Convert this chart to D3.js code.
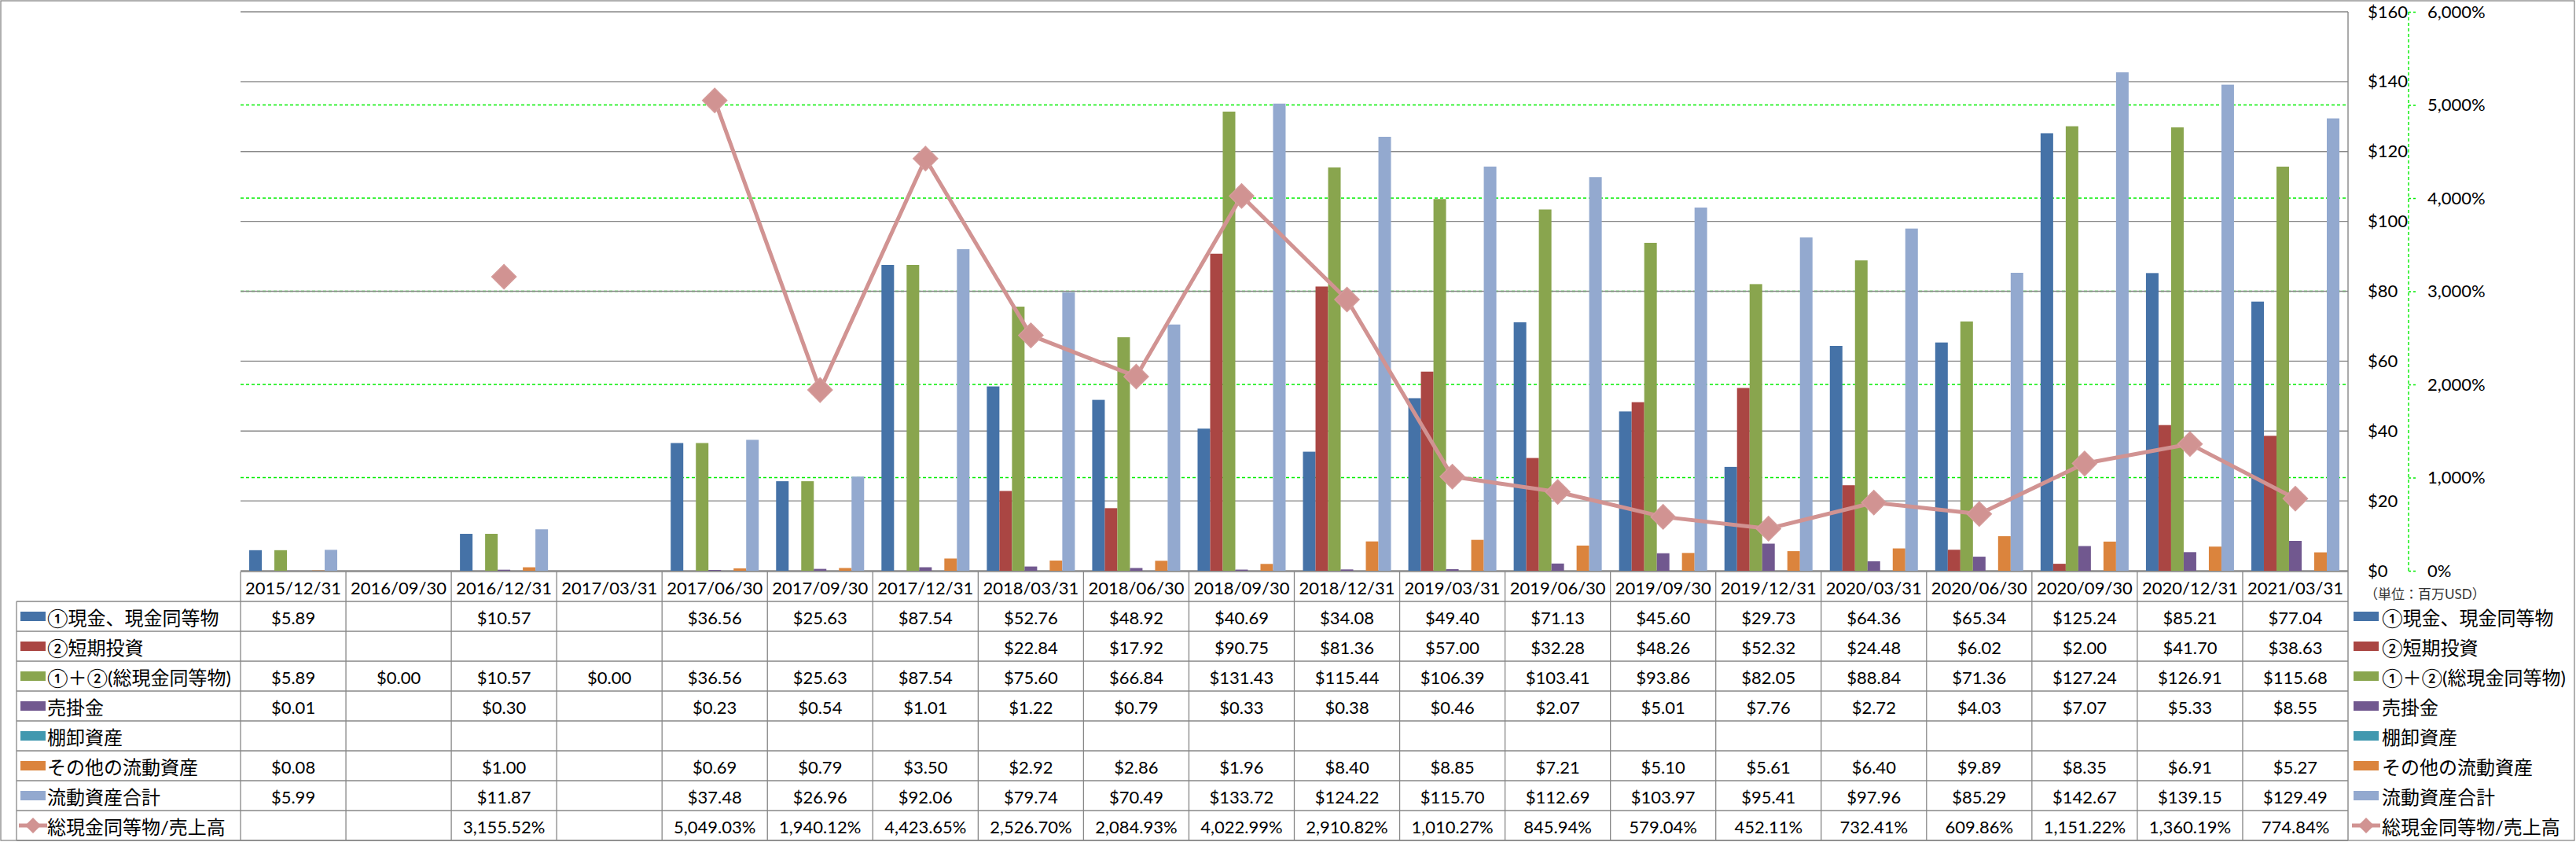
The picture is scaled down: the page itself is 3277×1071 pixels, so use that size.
<!DOCTYPE html>
<html lang="ja">
<head>
  <meta charset="UTF-8">
  <title>流動資産の推移</title>
  <script src="https://d3js.org/d3.v7.min.js"></script>
  <style>
    body { margin: 0; background: #fff; }
    text { font-family: Lato, "Noto Sans CJK JP", sans-serif; fill: #000; }
    .cell { font-size: 22px; }
    .lab { font-size: 24px; }
  </style>
</head>
<body>
  <svg id="chart" width="3277" height="1071"></svg>

  <script>
    // categories (決算期)
    const categories = ["2015/12/31", "2016/09/30", "2016/12/31", "2017/03/31", "2017/06/30",
      "2017/09/30", "2017/12/31", "2018/03/31", "2018/06/30", "2018/09/30", "2018/12/31",
      "2019/03/31", "2019/06/30", "2019/09/30", "2019/12/31", "2020/03/31", "2020/06/30",
      "2020/09/30", "2020/12/31", "2021/03/31"];

    // 百万USD
    const cash = [5.89, null, 10.57, null, 36.56, 25.63, 87.54, 52.76, 48.92, 40.69, 34.08,
      49.40, 71.13, 45.60, 29.73, 64.36, 65.34, 125.24, 85.21, 77.04];
    const shortTerm = [null, null, null, null, null, null, null, 22.84, 17.92, 90.75, 81.36,
      57.00, 32.28, 48.26, 52.32, 24.48, 6.02, 2.00, 41.70, 38.63];
    const totalCash = [5.89, 0.00, 10.57, 0.00, 36.56, 25.63, 87.54, 75.60, 66.84, 131.43, 115.44,
      106.39, 103.41, 93.86, 82.05, 88.84, 71.36, 127.24, 126.91, 115.68];
    const receivables = [0.01, null, 0.30, null, 0.23, 0.54, 1.01, 1.22, 0.79, 0.33, 0.38,
      0.46, 2.07, 5.01, 7.76, 2.72, 4.03, 7.07, 5.33, 8.55];
    const inventory = [null, null, null, null, null, null, null, null, null, null, null,
      null, null, null, null, null, null, null, null, null];
    const otherCurrent = [0.08, null, 1.00, null, 0.69, 0.79, 3.50, 2.92, 2.86, 1.96, 8.40,
      8.85, 7.21, 5.10, 5.61, 6.40, 9.89, 8.35, 6.91, 5.27];
    const totalCurrent = [5.99, null, 11.87, null, 37.48, 26.96, 92.06, 79.74, 70.49, 133.72, 124.22,
      115.70, 112.69, 103.97, 95.41, 97.96, 85.29, 142.67, 139.15, 129.49];
    // 総現金同等物/売上高 (%)
    const cashToSales = [null, null, 3155.52, null, 5049.03, 1940.12, 4423.65, 2526.70, 2084.93,
      4022.99, 2910.82, 1010.27, 845.94, 579.04, 452.11, 732.41, 609.86, 1151.22, 1360.19, 774.84];

    const usdTicks = [0, 20, 40, 60, 80, 100, 120, 140, 160];
    const pctTicks = [0, 1000, 2000, 3000, 4000, 5000, 6000];

    const barSeries = [
      { name: "①現金、現金同等物", values: cash, color: "#4572A7" },
      { name: "②短期投資", values: shortTerm, color: "#AA4643" },
      { name: "①＋②(総現金同等物)", values: totalCash, color: "#89A54E" },
      { name: "売掛金", values: receivables, color: "#71588F" },
      { name: "棚卸資産", values: inventory, color: "#4198AF" },
      { name: "その他の流動資産", values: otherCurrent, color: "#DB843D" },
      { name: "流動資産合計", values: totalCurrent, color: "#93A9CF" }
    ];
    const lineSeries = { name: "総現金同等物/売上高", values: cashToSales, color: "#D19392" };

    const svg = d3.select("#chart");
    const grid = "#878787";

    // frame
    svg.append("rect").attr("x", 1).attr("y", 1).attr("width", 3274).attr("height", 1068)
      .attr("fill", "none").attr("stroke", grid).attr("stroke-width", 1.3);

    const x = d3.scaleBand().domain(categories).range([306, 2987]);
    const inner = d3.scaleBand().domain(d3.range(barSeries.length))
      .range([x.bandwidth() / 2 - 56, x.bandwidth() / 2 + 56]);
    const y = d3.scaleLinear().domain([0, 160]).range([726, 15]);
    const yPct = d3.scaleLinear().domain([0, 6000]).range([726, 15]);

    // % gridlines (green dashed)
    svg.append("g").selectAll("line").data(pctTicks.filter(d => d > 0 && d < 6000)).join("line")
      .attr("x1", 306).attr("x2", 2987)
      .attr("y1", d => yPct(d)).attr("y2", d => yPct(d))
      .attr("stroke", "#00EE00").attr("stroke-width", 1.4).attr("stroke-dasharray", "4,3");

    // $ gridlines
    svg.append("g").selectAll("line").data(usdTicks).join("line")
      .attr("x1", 306).attr("x2", 2987)
      .attr("y1", d => y(d)).attr("y2", d => y(d))
      .attr("stroke", grid).attr("stroke-width", 1.4);

    // bars
    const groups = svg.append("g").selectAll("g").data(barSeries).join("g")
      .attr("fill", d => d.color);
    groups.each(function (s, si) {
      d3.select(this).selectAll("rect")
        .data(s.values.map((v, i) => ({ v, c: categories[i] })).filter(d => d.v !== null))
        .join("rect")
        .attr("x", d => x(d.c) + inner(si))
        .attr("width", inner.bandwidth())
        .attr("y", d => y(d.v))
        .attr("height", d => y(0) - y(d.v));
    });

    // plot right edge
    svg.append("line").attr("x1", 2987).attr("x2", 2987).attr("y1", 15).attr("y2", 1069)
      .attr("stroke", grid).attr("stroke-width", 1.4);

    // ratio line
    const pts = cashToSales.map((v, i) => ({ v, c: categories[i] }));
    const line = d3.line()
      .defined(d => d.v !== null)
      .x(d => x(d.c) + x.bandwidth() / 2)
      .y(d => yPct(d.v));
    svg.append("path").datum(pts).attr("d", line)
      .attr("fill", "none").attr("stroke", lineSeries.color)
      .attr("stroke-width", 5).attr("stroke-linejoin", "round");
    const diamond = d3.symbol().type(d3.symbolSquare).size(480);
    svg.append("g").selectAll("path").data(pts.filter(d => d.v !== null)).join("path")
      .attr("d", diamond)
      .attr("transform", d => `translate(${x(d.c) + x.bandwidth() / 2},${yPct(d.v)}) rotate(45)`)
      .attr("fill", lineSeries.color).attr("stroke", "#D59B9A").attr("stroke-width", 1.5);

    // right $ axis labels
    const usdAxis = svg.append("g").attr("transform", "translate(3012,0)")
      .call(d3.axisRight(y).tickValues(usdTicks).tickSize(0).tickPadding(0).tickFormat(d => "$" + d));
    usdAxis.select(".domain").remove();
    usdAxis.selectAll("text").attr("class", "cell").attr("font-size", null).attr("font-family", null)
      .attr("text-anchor", "start");

    // right % axis
    const pctAxis = svg.append("g").attr("transform", "translate(3064,0)")
      .call(d3.axisRight(yPct).tickValues(pctTicks).tickSize(9).tickPadding(15)
        .tickFormat(d => d3.format(",")(d) + "%"));
    pctAxis.select(".domain").attr("stroke", "#00EE00").attr("stroke-width", 1.4)
      .attr("stroke-dasharray", "4,3").attr("d", "M0,15V726");
    pctAxis.selectAll(".tick line").attr("stroke", "#00EE00").attr("stroke-width", 1.4)
      .attr("stroke-dasharray", "3,3");
    pctAxis.selectAll("text").attr("class", "cell").attr("font-size", null).attr("font-family", null);

    svg.append("text").attr("x", 3008).attr("y", 755)
      .attr("dominant-baseline", "central")
      .style("font-size", "17px").style("fill", "#333")
      .text("（単位：百万USD）");

    // data table
    const rowTop = 765, rowH = 38;
    const allSeries = barSeries.concat([lineSeries]);
    const table = svg.append("g").attr("stroke", grid).attr("stroke-width", 1.3);
    table.append("line").attr("x1", 306).attr("x2", 2987).attr("y1", 727).attr("y2", 727);
    d3.range(allSeries.length + 1).forEach(r => {
      table.append("line").attr("x1", 21).attr("x2", 2987)
        .attr("y1", rowTop + r * rowH).attr("y2", rowTop + r * rowH);
    });
    categories.forEach(c => {
      table.append("line").attr("x1", x(c)).attr("x2", x(c)).attr("y1", 727).attr("y2", 1069);
    });
    table.append("line").attr("x1", 21).attr("x2", 21).attr("y1", rowTop).attr("y2", 1069);

    svg.append("g").selectAll("text").data(categories).join("text")
      .attr("class", "cell")
      .attr("x", d => x(d) + x.bandwidth() / 2).attr("y", 747)
      .attr("text-anchor", "middle").attr("dominant-baseline", "central")
      .text(d => d);

    const fmtUsd = v => "$" + d3.format(".2f")(v);
    const fmtPct = v => d3.format(",.2f")(v) + "%";

    allSeries.forEach((s, r) => {
      const cy = rowTop + r * rowH + rowH / 2;
      const isLine = s === lineSeries;
      svg.append("g").selectAll("text")
        .data(s.values.map((v, i) => ({ v, c: categories[i] })).filter(d => d.v !== null))
        .join("text")
        .attr("class", "cell")
        .attr("x", d => x(d.c) + x.bandwidth() / 2).attr("y", cy + 1)
        .attr("text-anchor", "middle").attr("dominant-baseline", "central")
        .text(d => isLine ? fmtPct(d.v) : fmtUsd(d.v));

      // legend keys: inside table (left) and right of chart
      [[26, 60], [2994, 3030]].forEach(([kx, tx]) => {
        if (isLine) {
          svg.append("line").attr("x1", kx - 2).attr("x2", kx + 34).attr("y1", cy).attr("y2", cy)
            .attr("stroke", s.color).attr("stroke-width", 5);
          svg.append("path").attr("d", d3.symbol().type(d3.symbolSquare).size(200)())
            .attr("transform", `translate(${kx + 16},${cy}) rotate(45)`)
            .attr("fill", s.color);
        } else {
          svg.append("rect").attr("x", kx).attr("y", cy - 6).attr("width", 32).attr("height", 12)
            .attr("fill", s.color);
        }
        svg.append("text").attr("class", "lab").attr("x", tx).attr("y", cy + 1)
          .attr("dominant-baseline", "central").text(s.name);
      });
    });
  </script>
</body>
</html>
